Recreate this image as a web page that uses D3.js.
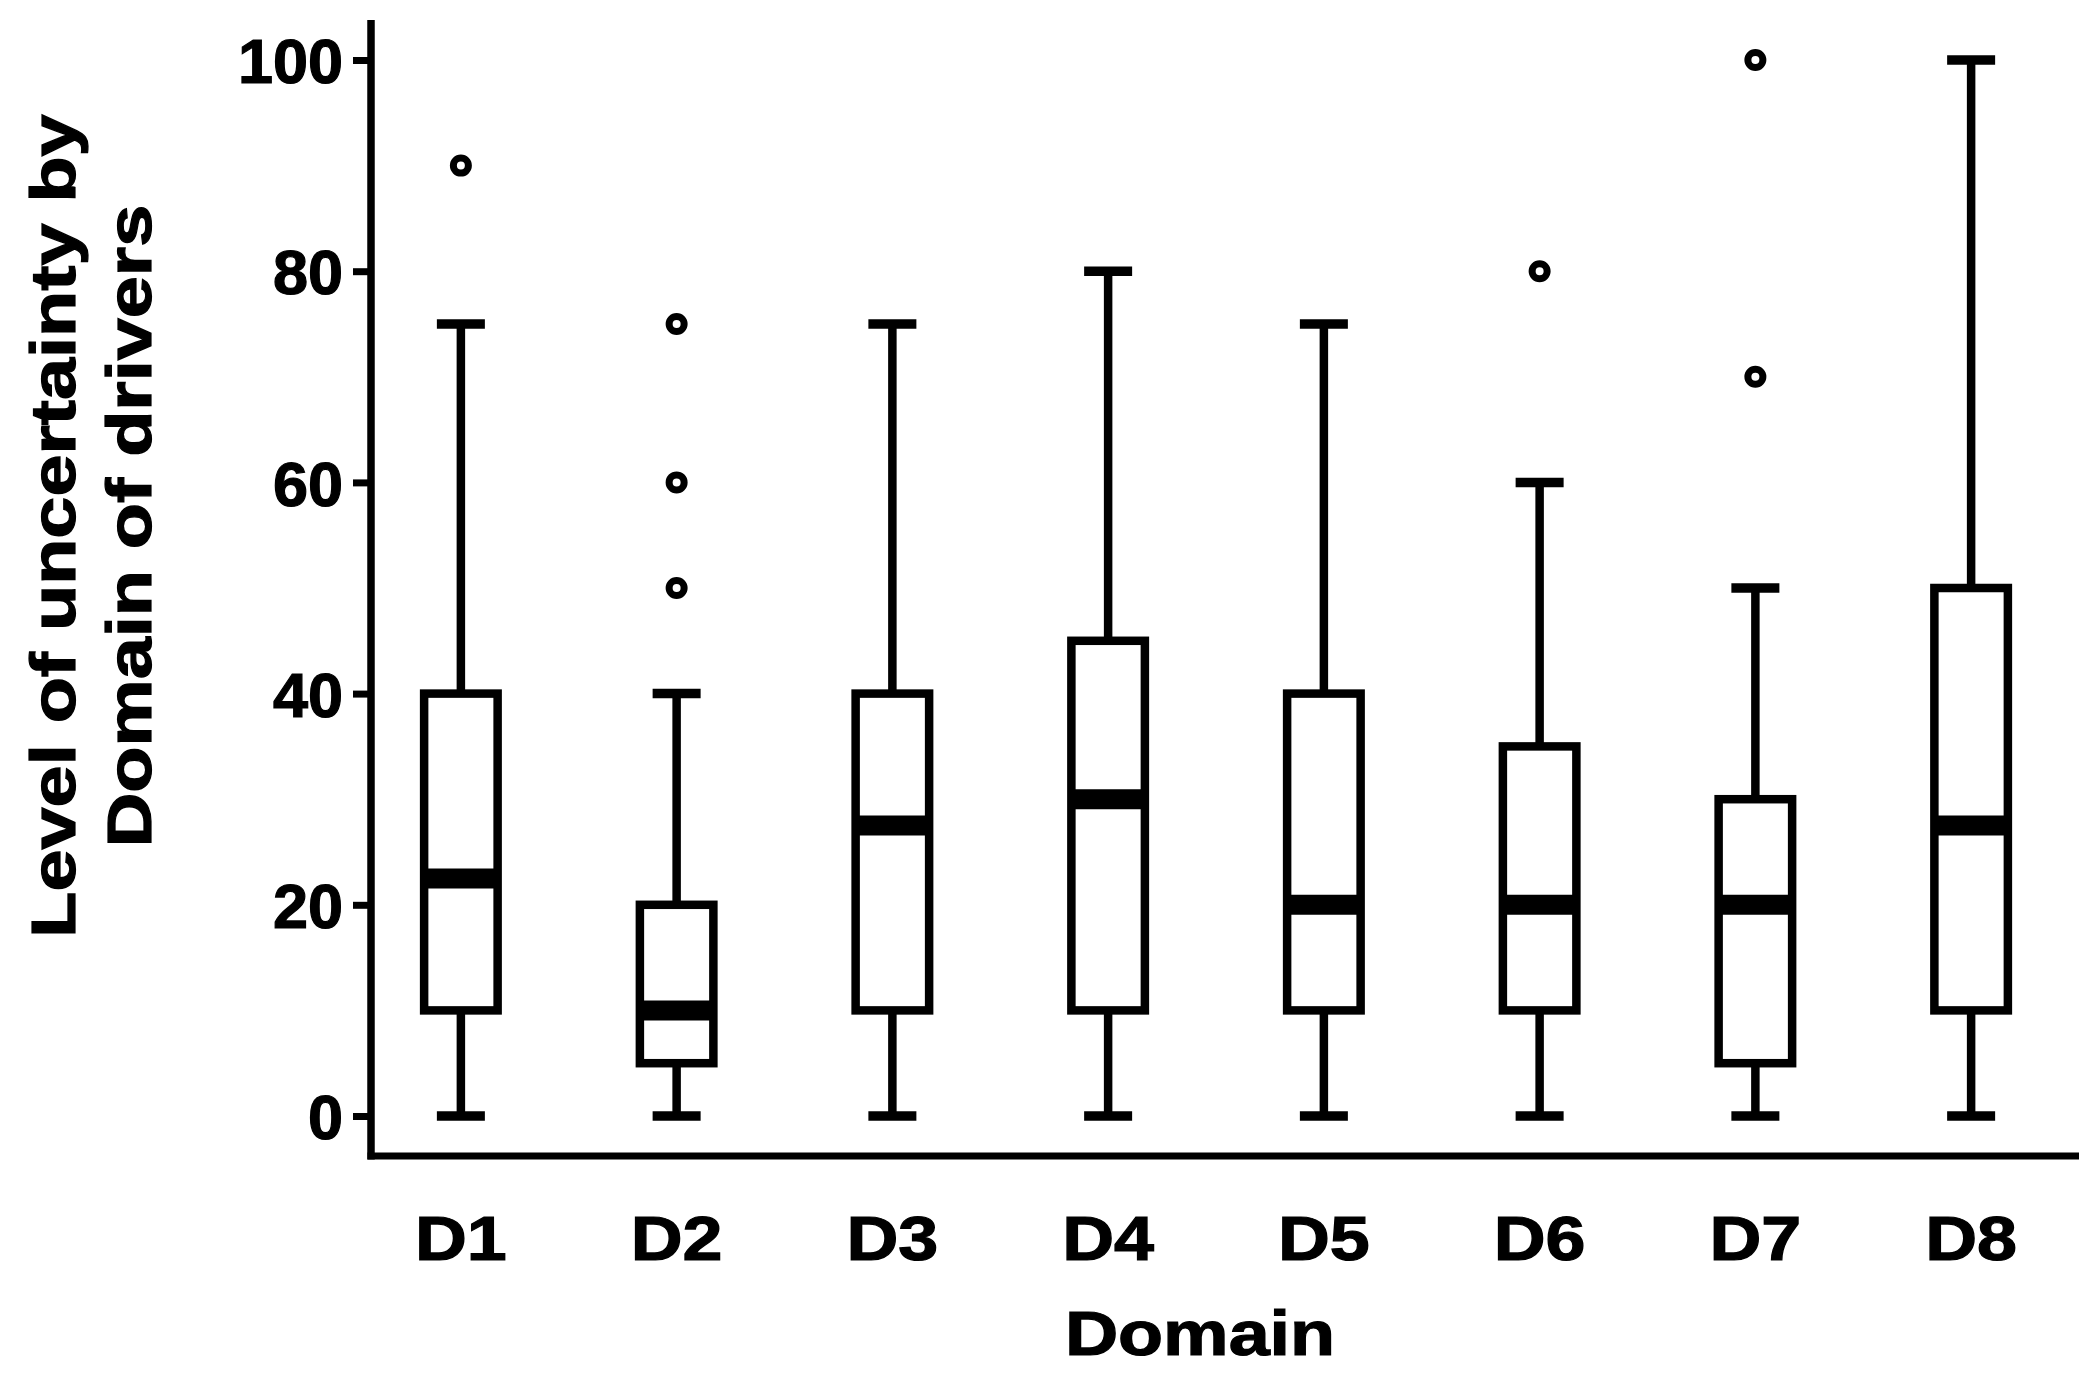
<!DOCTYPE html>
<html>
<head>
<meta charset="utf-8">
<script src="https://cdn.jsdelivr.net/npm/d3@7"></script>
<style>
  html, body { margin: 0; padding: 0; background: #fff; }
  svg { display: block; }
  text { font-family: "Liberation Sans", Arial, Helvetica, sans-serif; font-weight: bold; fill: #000; stroke: #000; stroke-width: 1.2px; }
</style>
</head>
<body>
<script>
// ---- data ----
const categories = ["D1", "D2", "D3", "D4", "D5", "D6", "D7", "D8"];
const mins     = [0, 0, 0, 0, 0, 0, 0, 0];
const q1s      = [10, 5, 10, 10, 10, 10, 5, 10];
const medians  = [22.5, 10, 27.5, 30, 20, 20, 20, 27.5];
const q3s      = [40, 20, 40, 45, 40, 35, 30, 50];
const maxs     = [75, 40, 75, 80, 75, 60, 50, 100];
const outliers = [[90], [50, 60, 75], [], [], [], [80], [70, 100], []];
const yTicks   = [0, 20, 40, 60, 80, 100];
const xTitle   = "Domain";
const yTitle   = ["Level of uncertainty by", "Domain of drivers"];

const W = 2100, H = 1378;
const svg = d3.select("body").append("svg").attr("width", W).attr("height", H);

const y = d3.scaleLinear().domain([0, 100]).range([1116, 60]);
const x = d3.scaleBand().domain(categories).range([353, 2079]).padding(0);

const boxW = 73.5, capW = 48;
const fontSize = 63;

const rows = categories.map((c, i) => ({
  c, min: mins[i], q1: q1s[i], med: medians[i], q3: q3s[i], max: maxs[i], out: outliers[i]
}));

const g = svg.append("g");
const cx = d => x(d.c) + x.bandwidth() / 2;

// whiskers
g.selectAll(".wu").data(rows).join("line")
  .attr("x1", cx).attr("x2", cx)
  .attr("y1", d => y(d.q3)).attr("y2", d => y(d.max))
  .attr("stroke", "#000").attr("stroke-width", 8.5);
g.selectAll(".wl").data(rows).join("line")
  .attr("x1", cx).attr("x2", cx)
  .attr("y1", d => y(d.q1)).attr("y2", d => y(d.min))
  .attr("stroke", "#000").attr("stroke-width", 8.5);
// caps
g.selectAll(".cu").data(rows).join("line")
  .attr("x1", d => cx(d) - capW / 2).attr("x2", d => cx(d) + capW / 2)
  .attr("y1", d => y(d.max)).attr("y2", d => y(d.max))
  .attr("stroke", "#000").attr("stroke-width", 9.5);
g.selectAll(".cl").data(rows).join("line")
  .attr("x1", d => cx(d) - capW / 2).attr("x2", d => cx(d) + capW / 2)
  .attr("y1", d => y(d.min)).attr("y2", d => y(d.min))
  .attr("stroke", "#000").attr("stroke-width", 9.5);
// boxes
g.selectAll(".box").data(rows).join("rect")
  .attr("x", d => cx(d) - boxW / 2).attr("width", boxW)
  .attr("y", d => y(d.q3)).attr("height", d => y(d.q1) - y(d.q3))
  .attr("fill", "#fff").attr("stroke", "#000").attr("stroke-width", 8.5);
// medians
g.selectAll(".med").data(rows).join("line")
  .attr("x1", d => cx(d) - boxW / 2).attr("x2", d => cx(d) + boxW / 2)
  .attr("y1", d => y(d.med)).attr("y2", d => y(d.med))
  .attr("stroke", "#000").attr("stroke-width", 20);
// outliers
const outPts = rows.flatMap(d => d.out.map(v => ({ c: d.c, v })));
g.selectAll(".out").data(outPts).join("circle")
  .attr("cx", cx).attr("cy", d => y(d.v)).attr("r", 7.5)
  .attr("fill", "#fff").attr("stroke", "#000").attr("stroke-width", 7);

// y axis
const yAxis = d3.axisLeft(y).tickValues(yTicks).tickSize(18).tickPadding(10).tickFormat(d3.format("d"));
const ya = svg.append("g").attr("transform", "translate(371,0)").call(yAxis);
ya.select(".domain").remove();
ya.selectAll(".tick line").attr("stroke", "#000").attr("stroke-width", 7);
ya.selectAll(".tick text").attr("font-size", fontSize).attr("font-family", null).attr("dy", "0.36em")
  .attr("fill", "#000");
svg.append("line").attr("x1", 371).attr("x2", 371).attr("y1", 20).attr("y2", 1159.5)
  .attr("stroke", "#000").attr("stroke-width", 7.5);

// x axis
const xAxis = d3.axisBottom(x).tickSize(0).tickPadding(0);
const xa = svg.append("g").attr("transform", "translate(0,1156)").call(xAxis);
xa.select(".domain").remove();
xa.selectAll(".tick text").attr("font-size", fontSize).attr("font-family", null)
  .attr("dy", null).attr("y", 104).attr("fill", "#000")
  .attr("transform", "scale(1.14,1)");
svg.append("line").attr("x1", 367.5).attr("x2", 2079).attr("y1", 1156).attr("y2", 1156)
  .attr("stroke", "#000").attr("stroke-width", 7);

// titles
svg.append("text").attr("transform", "translate(1200,1355) scale(1.17,1)")
  .attr("text-anchor", "middle").attr("font-size", fontSize).text(xTitle);
const yt = svg.append("text").attr("transform", "translate(0,526) rotate(-90) scale(1.2,1)")
  .attr("text-anchor", "middle").attr("font-size", fontSize);
yt.append("tspan").attr("x", 0).attr("y", 75).text(yTitle[0]);
yt.append("tspan").attr("x", 0).attr("y", 151).text(yTitle[1]);
</script>
</body>
</html>
